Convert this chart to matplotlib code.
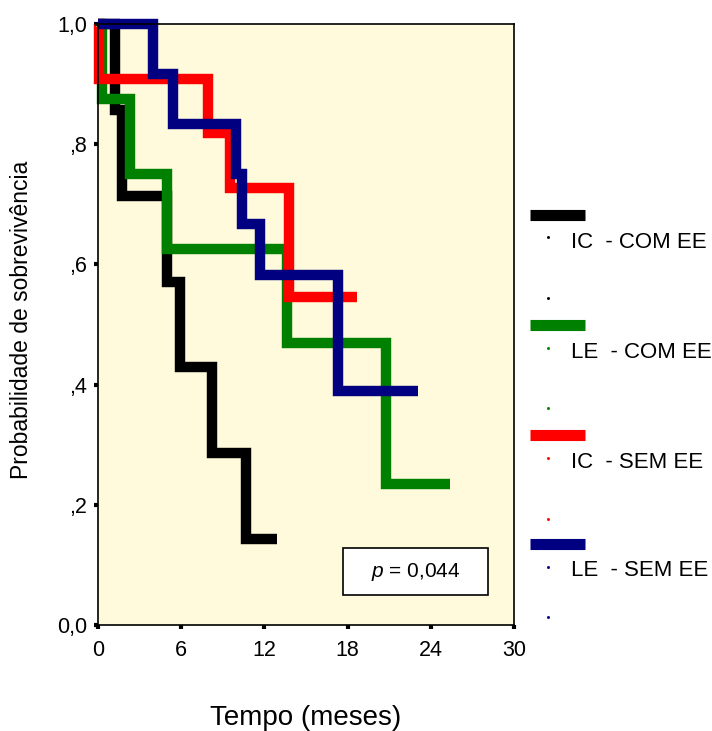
import matplotlib
matplotlib.use("Agg")
import matplotlib.pyplot as plt
from matplotlib.lines import Line2D
from matplotlib.patches import Rectangle

plt.rcParams["font.family"] = ["Liberation Sans", "DejaVu Sans"]
plt.rcParams["mathtext.fontset"] = "custom"
plt.rcParams["mathtext.it"] = "Liberation Sans:italic"
plt.rcParams["mathtext.rm"] = "Liberation Sans"

# Kaplan-Meier curves (time in months, survival)
ic_com_t = [0, 1.2, 1.7, 4.95, 5.9, 8.2, 10.7, 12.9]
ic_com_s = [1.0, 0.857, 0.714, 0.571, 0.429, 0.286, 0.143, 0.143]

le_com_t = [0, 0.3, 2.3, 4.95, 13.6, 20.8, 25.4]
le_com_s = [1.0, 0.875, 0.75, 0.625, 0.469, 0.234, 0.234]

ic_sem_t = [0, 0.1, 7.9, 9.5, 13.8, 18.7]
ic_sem_s = [1.0, 0.909, 0.818, 0.727, 0.545, 0.545]

le_sem_t = [0, 3.95, 5.4, 9.95, 10.4, 11.7, 17.3, 23.1]
le_sem_s = [1.0, 0.917, 0.833, 0.75, 0.667, 0.583, 0.389, 0.389]

groups = ["IC  - COM EE", "LE  - COM EE", "IC  - SEM EE", "LE  - SEM EE"]
colors = ["#000000", "#008000", "#ff0000", "#000080"]
curves = [(ic_com_t, ic_com_s), (le_com_t, le_com_s),
          (ic_sem_t, ic_sem_s), (le_sem_t, le_sem_s)]

x_ticks = [0, 6, 12, 18, 24, 30]
y_ticks = [0.0, 0.2, 0.4, 0.6, 0.8, 1.0]
y_tick_labels = ["0,0", ",2", ",4", ",6", ",8", "1,0"]
p_text = "= 0,044"

W, H = 712, 731
fig = plt.figure(figsize=(W / 100, H / 100), dpi=100)


def fx(px):
    return px / W


def fy(py):
    return 1 - py / H


ax = fig.add_axes([fx(98), fy(625), fx(514) - fx(98), fy(24) - fy(625)])
ax.set_facecolor("#fffadc")

for (t, s), c in zip(curves, colors):
    ax.step(t, s, where="post", color=c, linewidth=7.5,
            solid_joinstyle="miter", solid_capstyle="butt", clip_on=False)

ax.set_xlim(0, 30)
ax.set_ylim(0, 1.0)
ax.set_xticks(x_ticks)
ax.set_xticklabels([str(v) for v in x_ticks])
ax.set_yticks(y_ticks)
ax.set_yticklabels(y_tick_labels)
ax.tick_params(direction="out", length=3, width=3, labelsize=15.5)
ax.tick_params(axis="x", pad=8)
ax.tick_params(axis="y", pad=5)
for sp in ax.spines.values():
    sp.set_linewidth(1.2)

# p-value box
ax.add_patch(Rectangle((0.589, 0.05), 0.349, 0.078, transform=ax.transAxes,
                       facecolor="white", edgecolor="black", linewidth=1.2,
                       zorder=5))
ax.text(0.763, 0.089, r"$p$ " + p_text, transform=ax.transAxes,
        ha="center", va="center", fontsize=15, zorder=6)

fig.text(fx(306), fy(718), "Tempo (meses)", ha="center", va="center",
         fontsize=20)
fig.text(fx(22), fy(320), "Probabilidade de sobrevivência", ha="center",
         va="center", rotation=90, fontsize=16.5)

# legend drawn by hand at the right
bar_y = [214.5, 325, 435, 544]
text_y = [242, 352, 462, 571]
dot_y = [(237, 298), (348, 408), (458, 519), (567, 617)]
for name, c, by, ty, dys in zip(groups, colors, bar_y, text_y, dot_y):
    fig.add_artist(Line2D([fx(530), fx(585)], [fy(by), fy(by)], color=c,
                          linewidth=8, solid_capstyle="butt"))
    fig.text(fx(571), fy(ty), name, ha="left", va="center", fontsize=16)
    for dy in dys:
        fig.add_artist(Line2D([fx(548)], [fy(dy)], marker="s", markersize=1,
                              color=c, linestyle="none"))

fig.savefig("out.png", dpi=100)
